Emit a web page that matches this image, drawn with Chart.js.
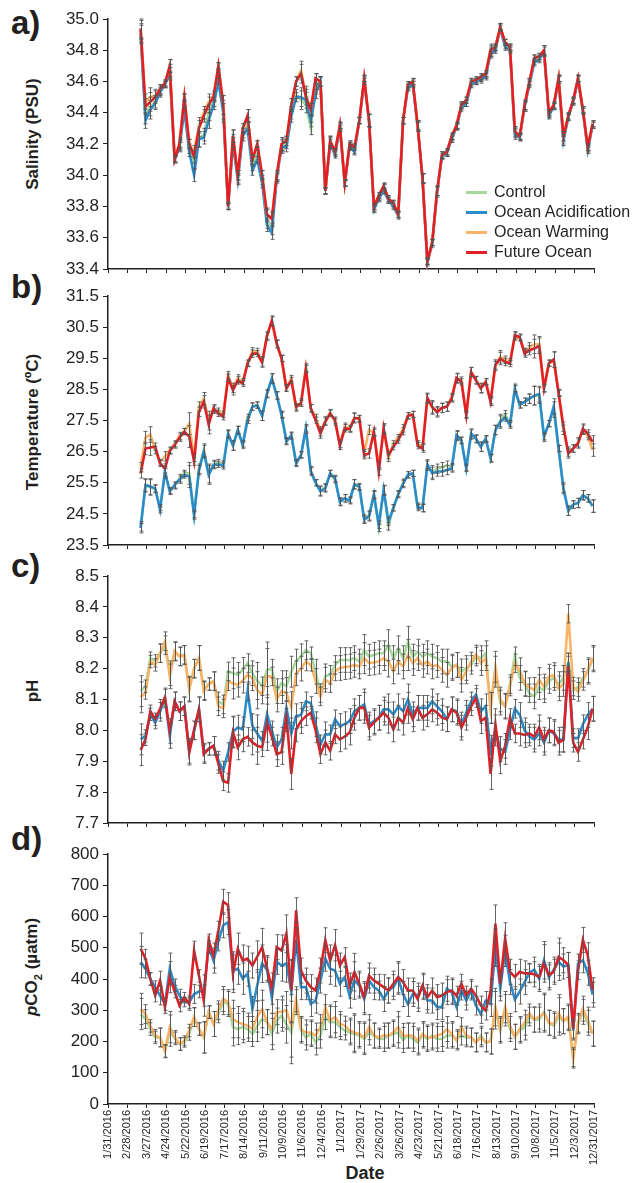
<!DOCTYPE html>
<html>
<head>
<meta charset="utf-8">
<script src="https://cdn.jsdelivr.net/npm/chart.js@4.4.1/dist/chart.umd.min.js"></script>
<style>
    html, body { margin: 0; padding: 0; background: #fff; }
    body { width: 635px; height: 1183px; position: relative; overflow: hidden;
           font-family: "Liberation Sans", Arial, sans-serif; color: #231f20; }
    canvas { position: absolute; left: 0; }
    .tag { position: absolute; left: 11px; font-weight: bold; font-size: 33px; line-height: 1; }
    .ytitle { position: absolute; font-weight: bold; font-size: 17px; white-space: nowrap;
              transform: translate(-50%, -50%) rotate(-90deg); }
    .xtitle { position: absolute; font-weight: bold; font-size: 18px; transform: translate(-50%, -50%); }
    .legend { position: absolute; left: 466px; top: 182px; font-size: 16px; }
    .legend div { height: 20px; display: flex; align-items: center; }
    .legend span { display: inline-block; width: 21px; height: 3px; margin-right: 7px; }
</style>
</head>
<body>
<div class="tag" style="top:6px">a)</div>
<div class="tag" style="top:270px">b)</div>
<div class="tag" style="top:549px">c)</div>
<div class="tag" style="top:822px">d)</div>

<div class="ytitle" style="left:33px;top:134px">Salinity (PSU)</div>
<div class="ytitle" style="left:33px;top:422px">Temperature (ºC)</div>
<div class="ytitle" style="left:33px;top:691px">pH</div>
<div class="ytitle" style="left:33px;top:967px"><i>p</i>CO<sub style="font-size:11px">2</sub> (µatm)</div>
<div class="xtitle" style="left:365px;top:1173px">Date</div>

<canvas id="salinityChart" width="635" height="280" style="top:0px"></canvas>
<canvas id="temperatureChart" width="635" height="280" style="top:280px"></canvas>
<canvas id="phChart" width="635" height="270" style="top:560px"></canvas>
<canvas id="pco2Chart" width="635" height="353" style="top:830px"></canvas>

<div class="legend" id="legend"></div>

<script>
// x axis: days since 1/31/2016, one tick every four weeks
const dateLabels = ["1/31/2016", "2/28/2016", "3/27/2016", "4/24/2016", "5/22/2016", "6/19/2016",
    "7/17/2016", "8/14/2016", "9/11/2016", "10/9/2016", "11/6/2016", "12/4/2016", "1/1/2017",
    "1/29/2017", "2/26/2017", "3/26/2017", "4/23/2017", "5/21/2017", "6/18/2017", "7/16/2017",
    "8/13/2017", "9/10/2017", "10/8/2017", "11/5/2017", "12/3/2017", "12/31/2017"];

// sampling days (days after 1/31/2016), weekly
const sampleDays = [47, 54, 61, 68, 75, 82, 89, 96, 103, 110, 117, 124, 131, 138, 145, 152, 159, 166, 173, 180,
    187, 194, 201, 208, 215, 222, 229, 236, 243, 250, 257, 264, 271, 278, 285, 292, 299, 306, 313, 320,
    327, 334, 341, 348, 355, 362, 369, 376, 383, 390, 397, 404, 411, 418, 425, 432, 439, 446, 453, 460,
    467, 474, 481, 488, 495, 502, 509, 516, 523, 530, 537, 544, 551, 558, 565, 572, 579, 586, 593, 600,
    607, 614, 621, 628, 635, 642, 649, 656, 663, 670, 677, 684, 691, 698];

const treatments = ["Control", "Ocean Acidification", "Ocean Warming", "Future Ocean"];

// a) salinity (PSU)
const salControl = [34.91, 34.38, 34.44, 34.47, 34.54, 34.58, 34.67, 34.10, 34.19, 34.45, 34.17, 34.08, 34.23, 34.26, 34.40, 34.47, 34.64, 34.42, 33.80, 34.22,
    33.98, 34.27, 34.33, 34.06, 34.14, 33.97, 33.70, 33.66, 33.99, 34.19, 34.20, 34.40, 34.52, 34.48, 34.45, 34.30, 34.55, 34.60, 33.90, 34.21,
    34.14, 34.31, 33.95, 34.19, 34.16, 34.35, 34.61, 34.35, 33.79, 33.86, 33.92, 33.84, 33.81, 33.75, 34.35, 34.57, 34.59, 34.31, 33.98, 33.45,
    33.57, 33.90, 34.13, 34.14, 34.24, 34.31, 34.44, 34.46, 34.59, 34.60, 34.62, 34.64, 34.79, 34.81, 34.95, 34.83, 34.81, 34.27, 34.24, 34.44,
    34.59, 34.73, 34.75, 34.80, 34.39, 34.44, 34.62, 34.23, 34.37, 34.47, 34.62, 34.41, 34.17, 34.32];
const salOA = [34.90, 34.35, 34.42, 34.46, 34.53, 34.58, 34.65, 34.10, 34.18, 34.42, 34.15, 34.00, 34.23, 34.24, 34.35, 34.45, 34.60, 34.40, 33.80, 34.20,
    33.97, 34.25, 34.30, 34.03, 34.10, 33.95, 33.68, 33.63, 33.98, 34.18, 34.18, 34.38, 34.50, 34.50, 34.48, 34.35, 34.52, 34.60, 33.90, 34.20,
    34.13, 34.30, 33.95, 34.18, 34.15, 34.35, 34.60, 34.35, 33.78, 33.85, 33.90, 33.84, 33.80, 33.74, 34.35, 34.56, 34.58, 34.31, 33.98, 33.44,
    33.56, 33.89, 34.12, 34.14, 34.23, 34.31, 34.43, 34.46, 34.58, 34.60, 34.61, 34.63, 34.78, 34.80, 34.94, 34.82, 34.80, 34.26, 34.24, 34.44,
    34.58, 34.72, 34.74, 34.79, 34.38, 34.44, 34.61, 34.22, 34.37, 34.47, 34.61, 34.41, 34.16, 34.32];
const salOW = [34.93, 34.47, 34.50, 34.51, 34.55, 34.59, 34.70, 34.11, 34.21, 34.50, 34.20, 34.15, 34.32, 34.40, 34.47, 34.51, 34.70, 34.45, 33.81, 34.25,
    34.00, 34.30, 34.38, 34.10, 34.20, 34.00, 33.74, 33.73, 34.00, 34.20, 34.22, 34.45, 34.60, 34.67, 34.52, 34.42, 34.62, 34.60, 33.90, 34.22,
    34.15, 34.32, 33.95, 34.20, 34.18, 34.35, 34.62, 34.35, 33.80, 33.87, 33.93, 33.85, 33.82, 33.75, 34.35, 34.58, 34.60, 34.32, 33.98, 33.45,
    33.57, 33.90, 34.13, 34.15, 34.25, 34.32, 34.45, 34.48, 34.60, 34.61, 34.63, 34.65, 34.81, 34.82, 34.95, 34.85, 34.82, 34.28, 34.25, 34.45,
    34.60, 34.75, 34.76, 34.80, 34.40, 34.45, 34.62, 34.25, 34.38, 34.48, 34.62, 34.42, 34.18, 34.33];
const salFO = [34.94, 34.44, 34.47, 34.50, 34.55, 34.59, 34.70, 34.10, 34.20, 34.50, 34.20, 34.12, 34.30, 34.38, 34.45, 34.50, 34.70, 34.45, 33.80, 34.25,
    34.00, 34.30, 34.38, 34.10, 34.20, 34.00, 33.75, 33.72, 34.00, 34.20, 34.22, 34.45, 34.60, 34.65, 34.50, 34.42, 34.62, 34.60, 33.90, 34.22,
    34.15, 34.32, 33.95, 34.20, 34.18, 34.35, 34.62, 34.35, 33.80, 33.87, 33.93, 33.85, 33.82, 33.75, 34.35, 34.58, 34.60, 34.32, 33.98, 33.45,
    33.57, 33.90, 34.13, 34.15, 34.25, 34.32, 34.45, 34.48, 34.60, 34.61, 34.63, 34.65, 34.80, 34.82, 34.95, 34.85, 34.82, 34.28, 34.25, 34.45,
    34.60, 34.75, 34.76, 34.80, 34.40, 34.45, 34.62, 34.25, 34.38, 34.48, 34.62, 34.42, 34.18, 34.33];
const salErr = [0.06, 0.05, 0.06, 0.04, 0.03, 0.02, 0.04, 0.02, 0.03, 0.02, 0.03, 0.04, 0.05, 0.04, 0.05, 0.03, 0.02, 0.06, 0.02, 0.04,
    0.03, 0.03, 0.04, 0.03, 0.02, 0.03, 0.04, 0.04, 0.03, 0.04, 0.03, 0.04, 0.03, 0.06, 0.05, 0.04, 0.03, 0.03, 0.02, 0.03,
    0.02, 0.02, 0.02, 0.02, 0.02, 0.02, 0.02, 0.04, 0.02, 0.02, 0.02, 0.02, 0.02, 0.02, 0.02, 0.02, 0.02, 0.03, 0.03, 0.02,
    0.02, 0.03, 0.02, 0.02, 0.02, 0.02, 0.02, 0.02, 0.02, 0.02, 0.02, 0.02, 0.03, 0.02, 0.02, 0.02, 0.02, 0.03, 0.02, 0.03,
    0.02, 0.02, 0.02, 0.03, 0.02, 0.02, 0.02, 0.03, 0.02, 0.02, 0.02, 0.02, 0.02, 0.02];

// b) temperature (ºC)
const tempControl = [24.10, 25.40, 25.35, 25.30, 24.70, 25.80, 25.25, 25.40, 25.65, 25.80, 25.80, 24.50, 25.95, 26.55, 25.80, 26.10, 26.15, 26.10, 27.05, 26.70,
    27.20, 26.75, 27.60, 27.95, 28.00, 27.65, 28.35, 28.85, 28.30, 27.70, 26.85, 27.00, 26.15, 26.40, 27.20, 25.90, 25.50, 25.25, 25.35, 25.80,
    25.60, 24.90, 25.00, 24.95, 25.45, 25.35, 24.35, 24.45, 25.10, 24.05, 25.25, 24.10, 24.70, 25.15, 25.50, 25.75, 25.80, 24.75, 24.70, 26.05,
    25.85, 25.95, 26.00, 26.05, 26.00, 27.00, 26.85, 26.00, 27.05, 26.90, 26.65, 26.90, 26.30, 27.20, 27.50, 27.70, 27.40, 28.55, 28.00, 28.10,
    28.20, 28.30, 28.30, 26.95, 27.40, 27.85, 26.60, 25.35, 24.60, 24.80, 24.85, 25.10, 25.00, 24.75];
const tempOA = [24.04, 25.43, 25.38, 25.32, 24.63, 25.86, 25.22, 25.43, 25.60, 25.75, 25.70, 24.45, 25.90, 26.50, 25.75, 26.07, 26.09, 26.04, 27.08, 26.69,
    27.19, 26.71, 27.51, 27.94, 27.99, 27.65, 28.37, 28.85, 28.31, 27.67, 26.82, 27.03, 26.12, 26.39, 27.25, 25.86, 25.50, 25.22, 25.32, 25.80,
    25.64, 24.88, 25.00, 24.92, 25.45, 25.38, 24.31, 24.42, 25.13, 24.15, 25.27, 24.26, 24.69, 25.12, 25.46, 25.76, 25.80, 24.70, 24.68, 26.09,
    25.80, 25.86, 25.86, 25.91, 25.96, 27.03, 26.87, 25.96, 27.08, 26.92, 26.66, 26.92, 26.28, 27.19, 27.45, 27.60, 27.35, 28.50, 28.00, 28.10,
    28.20, 28.30, 28.35, 27.00, 27.40, 27.95, 26.60, 25.30, 24.60, 24.80, 24.85, 25.10, 25.00, 24.75];
const tempOW = [26.00, 26.95, 27.05, 26.55, 26.15, 26.35, 26.55, 26.75, 27.00, 27.15, 27.40, 26.30, 27.95, 28.20, 27.50, 27.85, 27.80, 27.70, 28.95, 28.55,
    28.85, 28.75, 29.35, 29.72, 29.72, 29.40, 30.20, 30.68, 29.95, 29.50, 28.55, 28.85, 27.90, 28.10, 29.20, 27.90, 27.60, 27.15, 27.50, 27.75,
    27.45, 26.75, 27.30, 27.25, 27.60, 27.55, 26.45, 27.20, 27.10, 26.05, 27.20, 26.30, 26.75, 26.95, 27.25, 27.65, 27.70, 26.75, 26.65, 28.20,
    27.90, 27.80, 27.90, 27.95, 28.25, 28.85, 28.80, 27.70, 29.05, 28.80, 28.55, 28.75, 28.15, 29.25, 29.55, 29.45, 29.40, 30.20, 30.15, 29.70,
    29.85, 29.95, 29.95, 28.55, 29.35, 29.45, 28.40, 27.20, 26.50, 26.60, 26.80, 27.20, 27.00, 26.55];
const tempFO = [25.80, 26.60, 26.63, 26.66, 26.12, 25.96, 26.52, 26.71, 26.95, 27.14, 26.98, 26.18, 27.78, 28.10, 27.37, 27.89, 27.73, 27.62, 28.87, 28.47,
    28.79, 28.69, 29.33, 29.65, 29.65, 29.36, 30.23, 30.71, 29.97, 29.49, 28.53, 28.79, 27.94, 28.05, 29.15, 27.89, 27.51, 27.08, 27.46, 27.73,
    27.51, 26.69, 27.25, 27.22, 27.57, 27.57, 26.39, 26.44, 27.14, 25.86, 27.25, 26.39, 26.66, 26.87, 27.16, 27.65, 27.69, 26.69, 26.60, 28.23,
    27.94, 27.76, 27.91, 27.94, 28.21, 28.87, 28.74, 27.67, 29.06, 28.79, 28.53, 28.74, 28.10, 29.30, 29.49, 29.38, 29.33, 30.24, 30.18, 29.65,
    29.76, 29.81, 29.90, 28.53, 29.33, 29.46, 28.37, 27.30, 26.44, 26.60, 26.76, 27.24, 27.08, 26.81];
const tempErr = [0.15, 0.20, 0.25, 0.12, 0.10, 0.15, 0.10, 0.10, 0.12, 0.10, 0.35, 0.12, 0.15, 0.20, 0.30, 0.12, 0.10, 0.10, 0.12, 0.15,
    0.12, 0.10, 0.10, 0.12, 0.10, 0.15, 0.12, 0.15, 0.12, 0.10, 0.10, 0.10, 0.10, 0.10, 0.12, 0.12, 0.10, 0.15, 0.12, 0.10,
    0.10, 0.12, 0.12, 0.10, 0.15, 0.10, 0.12, 0.15, 0.12, 0.12, 0.15, 0.12, 0.10, 0.10, 0.12, 0.10, 0.10, 0.10, 0.12, 0.15,
    0.20, 0.15, 0.15, 0.15, 0.12, 0.15, 0.10, 0.10, 0.15, 0.12, 0.15, 0.10, 0.12, 0.15, 0.20, 0.12, 0.10, 0.12, 0.10, 0.12,
    0.15, 0.30, 0.25, 0.12, 0.10, 0.25, 0.10, 0.15, 0.15, 0.12, 0.15, 0.15, 0.12, 0.20];

// c) pH
const phControl = [8.127, 8.143, 8.234, 8.225, 8.250, 8.276, 8.185, 8.255, 8.240, 8.245, 8.135, 8.200, 8.235, 8.130, 8.150, 8.160, 8.094, 8.084, 8.191, 8.185,
    8.180, 8.196, 8.218, 8.185, 8.160, 8.143, 8.196, 8.200, 8.127, 8.153, 8.143, 8.190, 8.223, 8.240, 8.260, 8.250, 8.190, 8.121, 8.175, 8.180,
    8.212, 8.228, 8.228, 8.228, 8.234, 8.223, 8.260, 8.239, 8.245, 8.250, 8.250, 8.276, 8.234, 8.266, 8.234, 8.287, 8.239, 8.255, 8.239, 8.250,
    8.239, 8.234, 8.223, 8.223, 8.207, 8.212, 8.191, 8.202, 8.212, 8.239, 8.234, 8.250, 8.073, 8.190, 8.090, 8.080, 8.150, 8.240, 8.170, 8.150,
    8.120, 8.110, 8.140, 8.130, 8.160, 8.170, 8.150, 8.170, 8.220, 8.130, 8.140, 8.170, 8.190, 8.230];
const phOA = [7.971, 7.982, 8.052, 8.025, 8.060, 8.103, 7.982, 8.094, 8.062, 8.078, 7.934, 8.000, 8.068, 7.928, 7.940, 7.950, 7.902, 7.870, 7.930, 7.996,
    8.009, 8.003, 8.127, 8.014, 7.990, 7.966, 8.052, 8.000, 7.945, 7.970, 8.073, 7.990, 8.046, 8.050, 8.094, 8.089, 8.020, 7.955, 7.987, 7.987,
    8.036, 8.014, 8.020, 8.030, 8.062, 8.073, 8.084, 8.019, 8.030, 8.041, 8.068, 8.068, 8.052, 8.078, 8.062, 8.100, 8.052, 8.073, 8.073, 8.073,
    8.094, 8.078, 8.062, 8.036, 8.068, 8.062, 8.019, 8.057, 8.094, 8.116, 8.062, 8.078, 7.934, 8.000, 7.940, 7.930, 8.000, 8.070, 8.050, 8.000,
    7.980, 7.970, 7.990, 7.960, 8.000, 7.990, 7.970, 7.970, 8.220, 7.975, 7.975, 8.020, 8.050, 8.070];
const phOW = [8.107, 8.121, 8.223, 8.212, 8.250, 8.289, 8.175, 8.257, 8.239, 8.244, 8.132, 8.200, 8.234, 8.127, 8.150, 8.159, 8.078, 8.071, 8.159, 8.152,
    8.148, 8.161, 8.180, 8.169, 8.130, 8.116, 8.175, 8.175, 8.100, 8.127, 8.121, 8.075, 8.185, 8.200, 8.223, 8.212, 8.160, 8.110, 8.164, 8.153,
    8.191, 8.202, 8.205, 8.207, 8.212, 8.207, 8.234, 8.218, 8.220, 8.223, 8.234, 8.223, 8.191, 8.223, 8.207, 8.244, 8.218, 8.234, 8.212, 8.223,
    8.207, 8.212, 8.196, 8.180, 8.202, 8.212, 8.164, 8.191, 8.223, 8.246, 8.218, 8.234, 8.073, 8.206, 8.100, 8.077, 8.142, 8.217, 8.195, 8.152,
    8.140, 8.131, 8.163, 8.142, 8.174, 8.179, 8.136, 8.150, 8.378, 8.142, 8.125, 8.160, 8.195, 8.235];
const phFO = [7.936, 7.971, 8.062, 8.036, 8.070, 8.107, 7.998, 8.094, 8.062, 8.078, 7.928, 8.000, 8.068, 7.923, 7.940, 7.950, 7.891, 7.835, 7.830, 7.993,
    7.945, 7.971, 7.979, 7.961, 7.950, 7.945, 8.025, 7.980, 7.923, 7.930, 8.046, 7.859, 8.003, 8.030, 8.046, 8.057, 8.000, 7.923, 7.961, 7.934,
    7.987, 7.971, 7.980, 7.993, 8.041, 8.073, 8.073, 8.009, 8.025, 8.041, 8.057, 8.041, 8.003, 8.041, 8.025, 8.073, 8.036, 8.073, 8.041, 8.052,
    8.068, 8.057, 8.041, 8.036, 8.068, 8.057, 8.009, 8.041, 8.078, 8.105, 8.030, 8.041, 7.859, 8.020, 7.900, 7.950, 8.040, 7.990, 7.990, 7.985,
    7.990, 7.980, 8.010, 7.970, 8.000, 7.995, 7.960, 7.970, 8.210, 7.960, 7.930, 7.970, 8.010, 8.070];
const phErr = [0.05, 0.02, 0.02, 0.02, 0.03, 0.03, 0.04, 0.03, 0.03, 0.03, 0.04, 0.03, 0.04, 0.03, 0.02, 0.03, 0.03, 0.03, 0.03, 0.05,
    0.04, 0.04, 0.03, 0.04, 0.06, 0.03, 0.09, 0.03, 0.04, 0.04, 0.05, 0.05, 0.04, 0.04, 0.03, 0.02, 0.04, 0.03, 0.04, 0.03,
    0.03, 0.04, 0.04, 0.04, 0.04, 0.04, 0.05, 0.04, 0.04, 0.04, 0.04, 0.05, 0.04, 0.04, 0.04, 0.05, 0.04, 0.04, 0.04, 0.04,
    0.04, 0.04, 0.04, 0.04, 0.04, 0.04, 0.04, 0.04, 0.03, 0.03, 0.04, 0.04, 0.05, 0.05, 0.04, 0.04, 0.03, 0.03, 0.04, 0.04,
    0.03, 0.04, 0.04, 0.04, 0.04, 0.04, 0.04, 0.04, 0.03, 0.03, 0.03, 0.03, 0.04, 0.04];

// d) pCO2 (µatm)
const pco2Control = [288, 272, 240, 213, 213, 168, 235, 210, 192, 197, 224, 278, 240, 213, 294, 256, 290, 326, 320, 246,
    240, 246, 240, 224, 250, 272, 262, 224, 267, 283, 255, 229, 326, 235, 213, 224, 197, 219, 278, 262,
    262, 246, 235, 229, 224, 219, 208, 229, 219, 208, 208, 219, 224, 229, 205, 219, 208, 197, 219, 208,
    219, 208, 208, 219, 219, 208, 219, 213, 213, 197, 219, 197, 200, 300, 235, 300, 240, 215, 235, 245,
    280, 270, 270, 295, 260, 250, 280, 265, 275, 150, 255, 295, 260, 225];
const pco2OA = [454, 433, 400, 374, 347, 320, 433, 380, 347, 326, 326, 352, 360, 363, 502, 459, 520, 572, 582, 427,
    433, 401, 417, 304, 380, 449, 430, 340, 455, 443, 450, 360, 525, 374, 374, 320, 331, 395, 465, 433,
    427, 385, 406, 347, 395, 379, 336, 395, 374, 363, 336, 363, 374, 401, 352, 320, 352, 347, 374, 331,
    331, 310, 310, 369, 358, 310, 363, 331, 363, 315, 288, 330, 320, 500, 370, 490, 390, 335, 360, 390,
    420, 430, 400, 460, 405, 430, 455, 440, 445, 235, 450, 460, 420, 350];
const pco2OW = [304, 288, 250, 219, 213, 170, 246, 215, 192, 203, 235, 278, 240, 213, 294, 256, 300, 336, 326, 272,
    262, 256, 251, 240, 280, 304, 262, 240, 294, 295, 300, 250, 335, 240, 229, 229, 219, 246, 310, 267,
    278, 256, 251, 235, 229, 224, 213, 246, 219, 213, 219, 219, 229, 246, 218, 219, 219, 203, 224, 213,
    213, 219, 224, 240, 224, 203, 246, 219, 213, 197, 213, 197, 200, 310, 240, 310, 250, 215, 240, 260,
    290, 270, 280, 290, 260, 255, 290, 265, 280, 145, 260, 305, 270, 225];
const pco2FO = [497, 465, 400, 347, 395, 310, 406, 360, 315, 342, 320, 491, 410, 331, 524, 475, 555, 647, 636, 417,
    497, 459, 465, 443, 472, 502, 435, 369, 502, 491, 545, 363, 620, 427, 395, 374, 363, 427, 524, 459,
    508, 443, 470, 379, 422, 385, 342, 411, 395, 385, 374, 363, 385, 406, 390, 363, 363, 336, 379, 342,
    363, 342, 347, 358, 363, 347, 385, 347, 369, 347, 315, 299, 360, 577, 385, 530, 423, 407, 423, 418,
    418, 415, 407, 450, 412, 423, 471, 460, 445, 241, 428, 525, 476, 364];
const pco2Err = [50, 30, 20, 20, 30, 20, 50, 20, 20, 15, 20, 30, 20, 50, 20, 40, 30, 40, 40, 60,
    50, 50, 40, 40, 50, 60, 40, 50, 40, 50, 60, 100, 40, 40, 40, 40, 40, 40, 40, 50,
    50, 40, 30, 40, 60, 40, 50, 40, 40, 30, 40, 40, 40, 50, 40, 40, 40, 40, 40, 40,
    40, 40, 40, 40, 40, 30, 30, 30, 30, 30, 30, 30, 40, 60, 40, 50, 40, 40, 40, 40,
    30, 40, 40, 60, 40, 40, 60, 40, 40, 30, 30, 40, 40, 40];

const seriesColors = ["#a6d79c", "#2b8ccc", "#fab467", "#e21f26"];
const AXIS_COLOR = "#231f20";
const PLOT_LEFT = 108;
const PLOT_RIGHT = 594;

// Error bars are drawn per point from each panel's error list, through the chart's own scales.
const errorBars = {
    id: "errorBars",
    afterDatasetsDraw(chart, args, opts) {
        const { ctx, scales: { x, y } } = chart;
        const errs = opts.errs || [];
        ctx.save();
        ctx.strokeStyle = "rgba(85,85,85,0.9)";
        ctx.lineWidth = 1;
        chart.data.datasets.forEach((ds) => {
            ds.data.forEach((p, i) => {
                const e = errs[i] ?? 0;
                const px = Math.round(x.getPixelForValue(p.x)) + 0.5;
                const top = y.getPixelForValue(p.y + e);
                const bot = y.getPixelForValue(p.y - e);
                ctx.beginPath();
                ctx.moveTo(px, top); ctx.lineTo(px, bot);
                ctx.moveTo(px - 2, top); ctx.lineTo(px + 2, top);
                ctx.moveTo(px - 2, bot); ctx.lineTo(px + 2, bot);
                ctx.stroke();
            });
        });
        ctx.restore();
    },
};

function makePanel(canvasId, cfg) {
    const canvas = document.getElementById(canvasId);
    const height = canvas.height;
    const datasets = cfg.series.map((values, k) => ({
        label: treatments[k],
        data: sampleDays.map((d, i) => ({ x: d, y: values[i] })),
        borderColor: seriesColors[k],
        backgroundColor: seriesColors[k],
        borderWidth: 2.6,
        pointRadius: 0,
        tension: 0,
        order: 3 - k,
    }));

    return new Chart(canvas, {
        type: "line",
        data: { datasets },
        plugins: [errorBars],
        options: {
            responsive: false,
            animation: false,
            devicePixelRatio: 1,
            layout: { padding: { top: cfg.areaTop, right: 635 - PLOT_RIGHT, left: 0, bottom: 0 } },
            plugins: {
                legend: { display: false },
                tooltip: { enabled: false },
                errorBars: { errs: cfg.errs },
            },
            scales: {
                x: {
                    type: "linear",
                    min: 0,
                    max: 700,
                    ticks: {
                        stepSize: 28,
                        autoSkip: false,
                        display: !!cfg.showDates,
                        minRotation: 90,
                        maxRotation: 90,
                        padding: 2,
                        color: AXIS_COLOR,
                        font: { family: "'Liberation Sans', Arial, sans-serif", size: 11 },
                        callback: (value) => dateLabels[Math.round(value / 28)],
                    },
                    grid: { drawOnChartArea: false, drawTicks: true, tickLength: 4, color: AXIS_COLOR },
                    border: { display: true, color: AXIS_COLOR, width: 1.5 },
                    afterFit: (s) => {
                        s.height = height - cfg.areaBottom;
                        s.paddingLeft = 0;
                        s.paddingRight = 0;
                    },
                },
                y: {
                    min: cfg.yMin,
                    max: cfg.yMax,
                    ticks: {
                        stepSize: cfg.yStep,
                        padding: 4,
                        color: AXIS_COLOR,
                        font: { family: "'Liberation Sans', Arial, sans-serif", size: 17 },
                        callback: (value) => value.toFixed(cfg.decimals),
                    },
                    grid: { drawOnChartArea: false, drawTicks: true, tickLength: 5, color: AXIS_COLOR },
                    border: { display: true, color: AXIS_COLOR, width: 1.5 },
                    afterFit: (s) => {
                        s.width = PLOT_LEFT;
                        s.paddingTop = 0;
                        s.paddingBottom = 0;
                    },
                },
            },
        },
    });
}

function buildLegend() {
    const box = document.getElementById("legend");
    treatments.forEach((name, k) => {
        box.insertAdjacentHTML("beforeend",
            `<div><span style="background:${seriesColors[k]}"></span>${name}</div>`);
    });
}

makePanel("salinityChart", {
    series: [salControl, salOA, salOW, salFO], errs: salErr,
    yMin: 33.4, yMax: 35.0, yStep: 0.2, decimals: 1, areaTop: 19, areaBottom: 269,
});
makePanel("temperatureChart", {
    series: [tempControl, tempOA, tempOW, tempFO], errs: tempErr,
    yMin: 23.5, yMax: 31.5, yStep: 1, decimals: 1, areaTop: 16, areaBottom: 265,
});
makePanel("phChart", {
    series: [phControl, phOA, phOW, phFO], errs: phErr,
    yMin: 7.7, yMax: 8.5, yStep: 0.1, decimals: 1, areaTop: 16, areaBottom: 263,
});
makePanel("pco2Chart", {
    series: [pco2Control, pco2OA, pco2OW, pco2FO], errs: pco2Err,
    yMin: 0, yMax: 800, yStep: 100, decimals: 0, areaTop: 24, areaBottom: 274, showDates: true,
});
buildLegend();
</script>
</body>
</html>
